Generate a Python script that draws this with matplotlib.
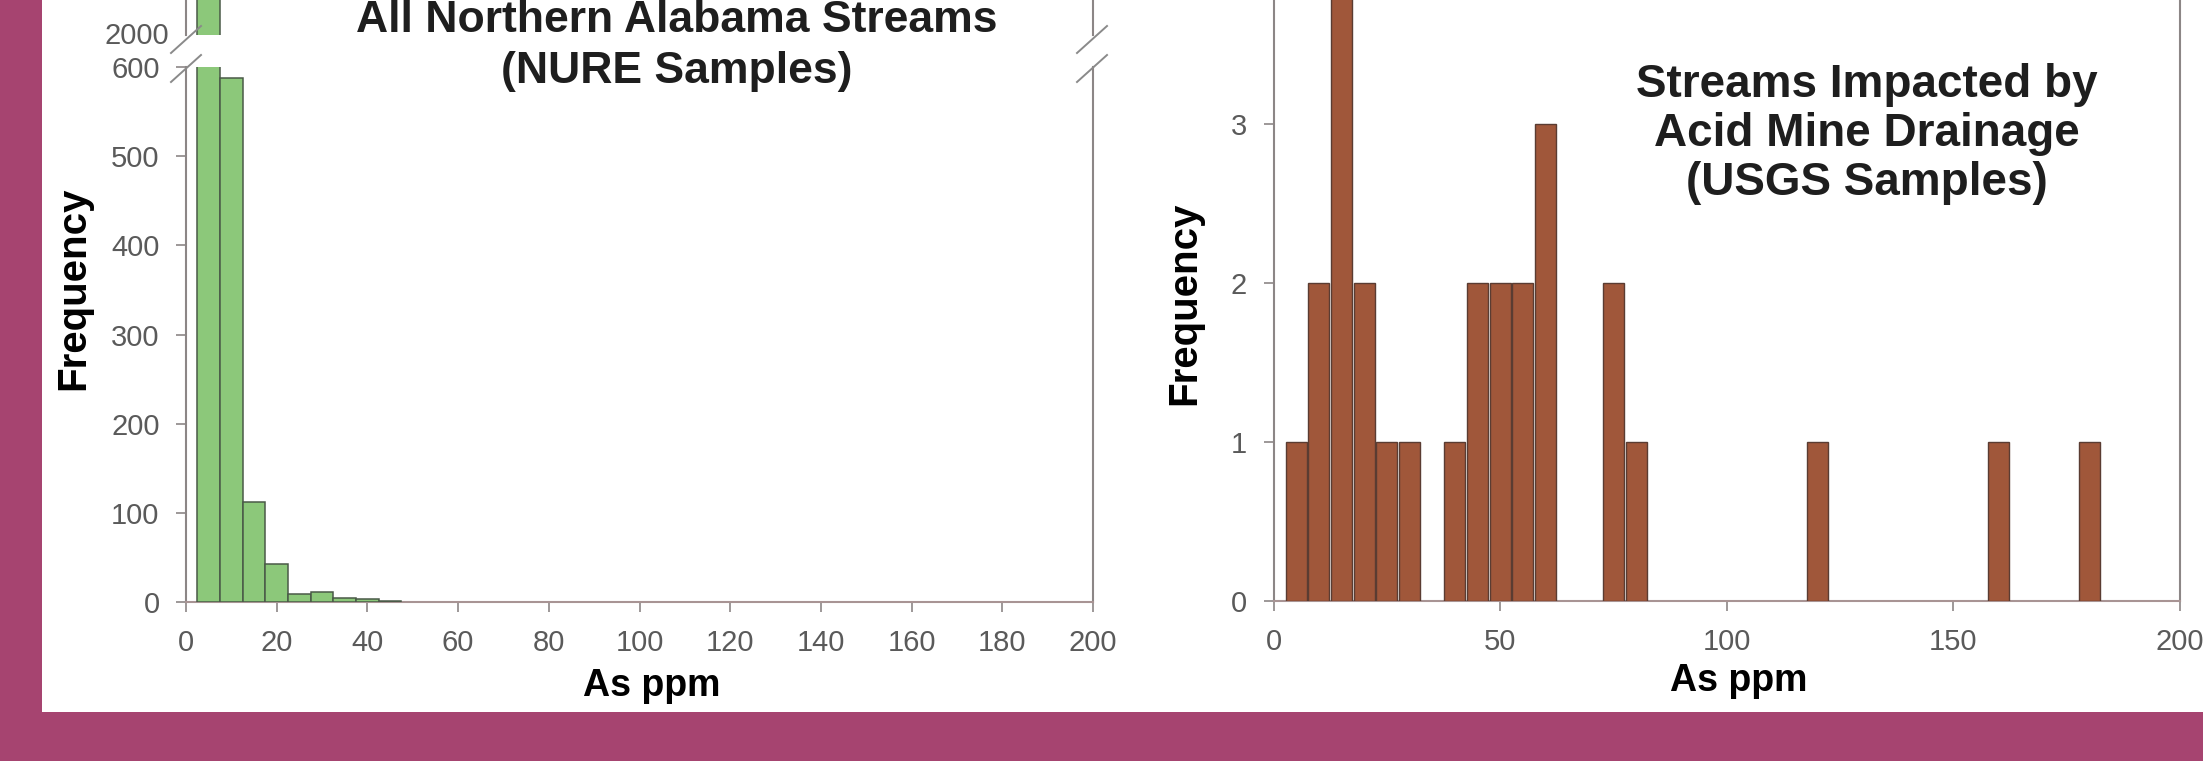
import matplotlib
matplotlib.use("Agg")
import matplotlib.pyplot as plt
from matplotlib.lines import Line2D
from matplotlib.patches import Rectangle

plt.rcParams['font.family'] = ['Liberation Sans', 'DejaVu Sans']

# Arsenic histograms, 5 ppm bins (bin centres in ppm)
nure_bin_centers = [5, 10, 15, 20, 25, 30, 35, 40, 45]
nure_counts = [2050, 588, 112, 43, 9, 11, 5, 3, 1]

usgs_bin_centers = [5, 10, 15, 20, 25, 30, 40, 45, 50, 55, 60, 75, 80, 120, 160, 180]
usgs_counts = [1, 2, 4, 2, 1, 1, 1, 2, 2, 2, 3, 2, 1, 1, 1, 1]

nure_xticks = list(range(0, 201, 20))
nure_yticks_low = [0, 100, 200, 300, 400, 500, 600]
nure_yticks_high = [2000]
usgs_xticks = [0, 50, 100, 150, 200]
usgs_yticks = [0, 1, 2, 3]

nure_title = ["All Northern Alabama Streams", "(NURE Samples)"]
usgs_title = ["Streams Impacted by", "Acid Mine Drainage", "(USGS Samples)"]

W, H = 2203, 761
BG = '#A64470'
GREEN = '#8CC87A'
GREEN_EDGE = '#4A5A48'
BROWN = '#A0573A'
BROWN_EDGE = '#5A3C32'
SPINE = '#8C8686'
ZERO = '#A89494'
TICKLBL = '#5A5A5A'


def fx(x):
    return x / W


def fy(y):
    return 1 - y / H


def box(x0, y0, x1, y1):
    return [x0 / W, 1 - y1 / H, (x1 - x0) / W, (y1 - y0) / H]


fig = plt.figure(figsize=(W / 100, H / 100), dpi=100)
fig.patch.set_facecolor(BG)
fig.add_artist(Rectangle((fx(42), fy(712)), 1 - fx(42), 712 / H,
                         transform=fig.transFigure, facecolor='white',
                         edgecolor='none', zorder=0))


def style_axes(ax, left_pad):
    ax.set_facecolor('none')
    ax.spines['top'].set_visible(False)
    for s in ('left', 'right'):
        ax.spines[s].set_color(SPINE)
        ax.spines[s].set_linewidth(1.5)
    ax.spines['bottom'].set_color(ZERO)
    ax.spines['bottom'].set_linewidth(1.5)
    ax.tick_params(axis='both', direction='out', length=7, width=1.2,
                   color=SPINE, labelsize=21, labelcolor=TICKLBL)
    ax.tick_params(axis='x', pad=12.5)
    ax.tick_params(axis='y', pad=left_pad)
    ax.tick_params(axis='y', which='both', right=False)


# ---- Left: NURE samples, broken y axis ----
ax_lo = fig.add_axes(box(186, 67, 1093, 602))
ax_hi = fig.add_axes(box(186, 0, 1093, 35), sharex=ax_lo)

for ax in (ax_lo, ax_hi):
    ax.bar(nure_bin_centers, nure_counts, width=5, color=GREEN,
           edgecolor=GREEN_EDGE, linewidth=1.1, zorder=3)
    style_axes(ax, 12)

ax_lo.set_xlim(0, 200)
ax_lo.set_ylim(0, 600)
ax_lo.set_xticks(nure_xticks)
ax_lo.set_yticks(nure_yticks_low)

ax_hi.set_ylim(1997.8, 2037)
ax_hi.set_yticks(nure_yticks_high)
ax_hi.spines['bottom'].set_visible(False)
ax_hi.tick_params(axis='x', bottom=False, labelbottom=False)
ax_hi.tick_params(axis='y', length=0)

ax_lo.set_ylabel('Frequency', fontsize=29, fontweight='bold', va='center')
ax_lo.yaxis.set_label_coords((73 - 186) / 907, (602 - 288) / 535)
ax_lo.set_xlabel('As ppm', fontsize=27, fontweight='bold', va='baseline')
ax_lo.xaxis.set_label_coords((652 - 186) / 907, (602 - 696) / 535)

# ---- Right: USGS samples ----
ax_r = fig.add_axes(box(1273.5, 0, 2180, 601))
ax_r.bar(usgs_bin_centers, usgs_counts, width=4.6, color=BROWN,
         edgecolor=BROWN_EDGE, linewidth=1.0, zorder=3)
style_axes(ax_r, 12)
ax_r.set_xlim(0, 200)
ax_r.set_ylim(0, 601 / 159)
ax_r.set_xticks(usgs_xticks)
ax_r.set_yticks(usgs_yticks)
ax_r.set_ylabel('Frequency', fontsize=29, fontweight='bold', va='center')
ax_r.yaxis.set_label_coords((1184 - 1273.5) / 906.5, (601 - 303) / 601)
ax_r.set_xlabel('As ppm', fontsize=27, fontweight='bold', va='baseline')
ax_r.xaxis.set_label_coords((1739 - 1273.5) / 906.5, (601 - 691) / 601)

# ---- break symbols on both spines of the left chart ----
for sx in (187, 1093):
    for cy in (39, 68):
        fig.add_artist(Line2D([fx(sx - 16), fx(sx + 14)],
                              [fy(cy + 14), fy(cy - 13)],
                              transform=fig.transFigure, color='#8A8A8A',
                              linewidth=1.4, zorder=5))

# ---- panel titles ----
for i, line in enumerate(nure_title):
    fig.text(fx(677), fy(32 + 51 * i), line, ha='center', va='baseline',
             fontsize=32, fontweight='bold', color='#1E1E1E')
for i, line in enumerate(usgs_title):
    fig.text(fx(1867), fy(97 + 49 * i), line, ha='center', va='baseline',
             fontsize=33, fontweight='bold', color='#1E1E1E')

fig.savefig('out.png', dpi=100, facecolor=BG)
